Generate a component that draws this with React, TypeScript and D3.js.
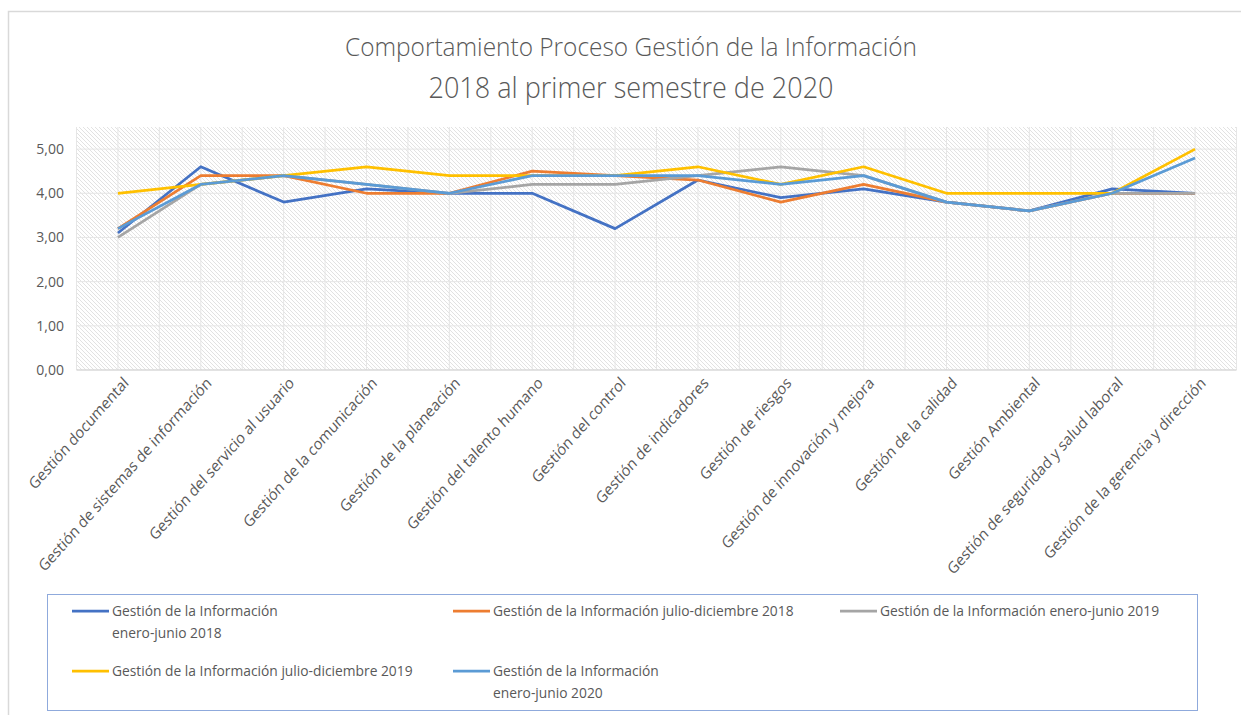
import { useEffect, useRef } from 'react';
import * as d3 from 'd3';

const CATEGORIES = [
  'Gestión documental',
  'Gestión de sistemas de información',
  'Gestión del servicio al usuario',
  'Gestión de la comunicación',
  'Gestión de la planeación',
  'Gestión del talento humano',
  'Gestión del control',
  'Gestión de indicadores',
  'Gestión de riesgos',
  'Gestión de innovación y mejora',
  'Gestión de la calidad',
  'Gestión Ambiental',
  'Gestión de seguridad y salud laboral',
  'Gestión de la gerencia y dirección',
];

const ENE_JUN_2018 = [3.1, 4.6, 3.8, 4.1, 4.0, 4.0, 3.2, 4.3, 3.9, 4.1, 3.8, 3.6, 4.1, 4.0];
const JUL_DIC_2018 = [3.2, 4.4, 4.4, 4.0, 4.0, 4.5, 4.4, 4.3, 3.8, 4.2, 3.8, 3.6, 4.0, 4.0];
const ENE_JUN_2019 = [3.0, 4.2, 4.4, 4.2, 4.0, 4.2, 4.2, 4.4, 4.6, 4.4, 3.8, 3.6, 4.0, 4.0];
const JUL_DIC_2019 = [4.0, 4.2, 4.4, 4.6, 4.4, 4.4, 4.4, 4.6, 4.2, 4.6, 4.0, 4.0, 4.0, 5.0];
const ENE_JUN_2020 = [3.2, 4.2, 4.4, 4.2, 4.0, 4.4, 4.4, 4.4, 4.2, 4.4, 3.8, 3.6, 4.0, 4.8];

const SERIES_LABELS = [
  ['Gestión de la Información', 'enero-junio 2018'],
  ['Gestión de la Información julio-diciembre 2018'],
  ['Gestión de la Información enero-junio 2019'],
  ['Gestión de la Información julio-diciembre 2019'],
  ['Gestión de la Información', 'enero-junio 2020'],
];
const SERIES_VALUES = [ENE_JUN_2018, JUL_DIC_2018, ENE_JUN_2019, JUL_DIC_2019, ENE_JUN_2020];
const SERIES_COLORS = ['#4472C4', '#ED7D31', '#A5A5A5', '#FFC000', '#5B9BD5'];

const Y_TICKS = [0, 1, 2, 3, 4, 5];
const TITLE = ['Comportamiento Proceso Gestión de la Información', '2018 al primer semestre de 2020'];

const W = 1241;
const H = 715;
const FONT = '"Open Sans", "DejaVu Sans", sans-serif';
const TEXT = '#595959';

export default function App() {
  const svgRef = useRef<SVGSVGElement>(null);

  useEffect(() => {
    const svg = d3.select(svgRef.current);
    svg.selectAll('*').remove();

    const PLOT = { left: 76.5, right: 1236.5, top: 127, bottom: 370 };

    const x = d3.scaleBand().domain(CATEGORIES).range([PLOT.left, PLOT.right]).padding(0);
    const cx = (c: string) => (x(c) ?? 0) + x.bandwidth() / 2;
    const y = d3.scaleLinear().domain([0, 5.5]).range([PLOT.bottom, PLOT.top]);

    // hatch pattern for plot area
    const defs = svg.append('defs');
    const pat = defs.append('pattern')
      .attr('id', 'hatch').attr('patternUnits', 'userSpaceOnUse')
      .attr('width', 4).attr('height', 4);
    pat.append('rect').attr('width', 4).attr('height', 4).attr('fill', '#ffffff');
    pat.append('path')
      .attr('d', 'M-1,3 l2,2 M0,0 l4,4 M3,-1 l2,2')
      .attr('stroke', '#e2e2e2').attr('stroke-width', 1);

    // chart border
    svg.append('rect')
      .attr('x', 8.5).attr('y', 11.5).attr('width', W + 20).attr('height', H + 20)
      .attr('fill', 'white').attr('stroke', '#d9d9d9').attr('stroke-width', 1.5);

    // title
    TITLE.forEach((t, i) => {
      svg.append('text')
        .attr('x', 631).attr('y', i === 0 ? 56 : 98)
        .attr('text-anchor', 'middle')
        .attr('font-family', FONT).attr('font-weight', 300)
        .attr('font-size', i === 0 ? 25 : 29)
        .attr('fill', TEXT)
        .attr('textLength', i === 0 ? 572 : 405)
        .attr('lengthAdjust', 'spacingAndGlyphs')
        .text(t);
    });

    // plot area
    svg.append('rect')
      .attr('x', PLOT.left).attr('y', PLOT.top)
      .attr('width', PLOT.right - PLOT.left).attr('height', PLOT.bottom - PLOT.top)
      .attr('fill', 'url(#hatch)');

    const g = svg.append('g');

    // vertical gridlines at centers and band edges
    const vx: number[] = [];
    CATEGORIES.forEach((c) => { vx.push(x(c) ?? 0); vx.push(cx(c)); });
    vx.push(PLOT.right);
    g.selectAll('line.vg').data(vx).join('line')
      .attr('x1', (d) => d).attr('x2', (d) => d)
      .attr('y1', PLOT.top).attr('y2', PLOT.bottom)
      .attr('stroke', '#e6e6e6').attr('stroke-width', 1);

    // horizontal gridlines
    g.selectAll('line.hg').data(Y_TICKS).join('line')
      .attr('x1', PLOT.left).attr('x2', PLOT.right)
      .attr('y1', (d) => y(d)).attr('y2', (d) => y(d))
      .attr('stroke', (d) => (d === 0 ? '#d9d9d9' : '#e6e6e6')).attr('stroke-width', (d) => (d === 0 ? 1.5 : 1));

    // y tick labels
    g.selectAll('text.yt').data(Y_TICKS).join('text')
      .attr('x', 64).attr('y', (d) => y(d))
      .attr('dy', '0.35em').attr('text-anchor', 'end')
      .attr('font-family', FONT).attr('font-size', 14).attr('fill', TEXT)
      .text((d) => d3.format('.2f')(d).replace('.', ','));

    // x tick labels rotated (source picture is slightly condensed horizontally)
    g.selectAll('text.xt').data(CATEGORIES).join('text')
      .attr('transform', (d) => `translate(${cx(d) + 8},${PLOT.bottom + 10}) scale(0.89,1) rotate(-45)`)
      .attr('text-anchor', 'end').attr('dy', '0.35em')
      .attr('font-family', FONT).attr('font-size', 16).attr('fill', TEXT)
      .text((d) => d);

    // series lines
    const line = d3.line<number>()
      .x((_, i) => cx(CATEGORIES[i]))
      .y((d) => y(d));
    SERIES_VALUES.forEach((vals, i) => {
      g.append('path')
        .attr('d', line(vals))
        .attr('fill', 'none')
        .attr('stroke', SERIES_COLORS[i])
        .attr('stroke-width', 2.75)
        .attr('stroke-linejoin', 'round');
    });

    // legend
    svg.append('rect')
      .attr('x', 47.5).attr('y', 594.5).attr('width', 1150).attr('height', 116)
      .attr('fill', 'white').attr('stroke', '#8faadc').attr('stroke-width', 1);

    const colX = [72, 453, 840];
    const rowY = [611, 671];
    SERIES_LABELS.forEach((lines, i) => {
      const lx = colX[i % 3];
      const ly = rowY[Math.floor(i / 3)];
      svg.append('line')
        .attr('x1', lx).attr('x2', lx + 37).attr('y1', ly).attr('y2', ly)
        .attr('stroke', SERIES_COLORS[i]).attr('stroke-width', 2.75);
      lines.forEach((t, j) => {
        svg.append('text')
          .attr('x', lx + 40).attr('y', ly + j * 22)
          .attr('dy', '0.35em')
          .attr('font-family', FONT).attr('font-size', 13.8).attr('fill', TEXT)
          .text(t);
      });
    });
  }, []);

  return (
    <div style={{ position: 'absolute', left: 0, top: 0, width: W, height: H, background: 'white' }}>
      <svg ref={svgRef} width={W} height={H} style={{ display: 'block' }} />
    </div>
  );
}
